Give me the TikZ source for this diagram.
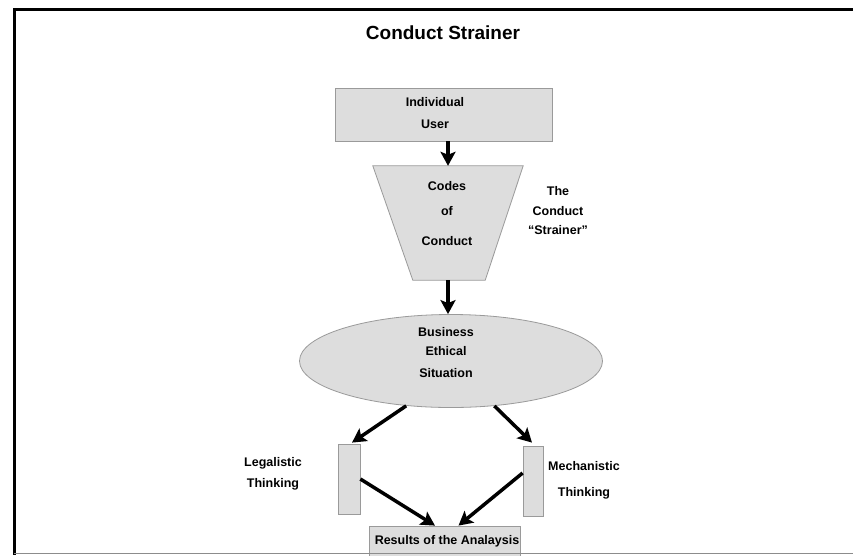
\documentclass[tikz,border=0pt]{standalone}
\usepackage{fontspec}
\setmainfont{Liberation Sans}
\usetikzlibrary{shapes.geometric,arrows.meta,calc}
\definecolor{boxfill}{HTML}{DDDDDD}
\definecolor{boxline}{HTML}{9A9A9A}
\begin{document}
\begin{tikzpicture}[x=1pt,y=-1pt,
  box/.style={draw=boxline,fill=boxfill,line width=0.8pt,inner sep=0pt},
  txt/.style={font=\fontsize{12.5}{14}\selectfont\bfseries,align=center,inner sep=0pt},
  arr/.style={line width=3.5pt,-{Stealth[length=14pt,width=15pt,inset=3pt]}}]
\useasboundingbox[fill=white] (0,0) rectangle (853,555);
% frame
\draw[line width=3pt] (853,9) -- (14,9) -- (14,555);
% title
\node[font=\fontsize{19}{22}\selectfont\bfseries] (title) at (443,33) {Conduct Strainer};
% shapes
\node[box,minimum width=217,minimum height=53] (user) at (443.5,114.5) {};
\node[txt] (usertxt) at (435,113) {Individual\\[8pt]User};
\node[inner sep=0pt,minimum width=150,minimum height=114] (tz) at (448,223) {};
\draw[box] (tz.north west) -- (tz.north east) -- ($(tz.south east)+(-38,0)$)
  -- ($(tz.south west)+(40,0)$) -- cycle;
\node[txt] (tztxt) at (447,214) {Codes\\[11pt]of\\[16pt]Conduct};
\node[txt] (strainer) at (558,211) {The\\[6pt]Conduct\\[5pt]``Strainer''};
\node[box,ellipse,minimum width=303,minimum height=93] (ell) at (451,361) {};
\node[txt] (elltxt) at (446,353) {Business\\[5pt]Ethical\\[8pt]Situation};
\node[box,minimum width=22,minimum height=70] (lr) at (349,479) {};
\node[box,minimum width=20,minimum height=70] (rr) at (533,481) {};
\node[txt] (legal) at (273,473.5) {Legalistic\\[7pt]Thinking};
\node[txt] (mech) at (584,480) {Mechanistic\\[12pt]Thinking};
\node[box,minimum width=151,minimum height=32] (res) at (444.5,542) {};
\node[txt] (restxt) at (447,541) {Results of the Analaysis};
% bottom edge
\draw[line width=1.5pt,draw=black!45] (14,553.5) -- (853,553.5);
% arrows
\draw[arr] (tz.north |- user.south) -- (tz.north);
\draw[arr] (tz.south) -- (tz.south |- ell.north);
\draw[arr] (ell.225) -- ($(lr.north)+(3,-1)$);
\draw[arr] (ell.314) -- ($(rr.north)+(-1,-3)$);
\draw[arr] (lr.east) -- ($(res.north)+(-9.5,0)$);
\draw[arr] ($(rr.west)+(0,-8)$) -- ($(res.north)+(14,0)$);
\end{tikzpicture}
\end{document}
